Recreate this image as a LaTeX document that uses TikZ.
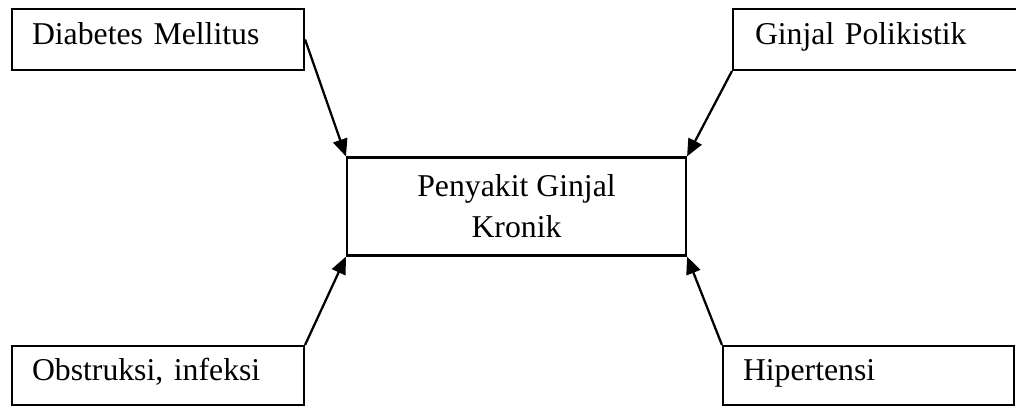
\documentclass[tikz,border=0pt]{standalone}
\usepackage{fontspec}
\setmainfont{Liberation Serif}
\usetikzlibrary{arrows.meta}
\def\px{0.75pt}
\tikzset{
  box/.style={draw=black, line width=1.6pt, rectangle, align=left,
    font=\fontsize{23.8pt}{30.75pt}\selectfont,
    text height=0.68em, text depth=0pt, inner ysep=0pt},
  mid/.style={draw=black, line width=1.6pt, rectangle, align=center,
    font=\fontsize{23.8pt}{30.75pt}\selectfont, inner sep=0pt},
  arr/.style={line width=1.7pt, -{Triangle[length=13pt,width=11pt]}}
}
\begin{document}
\begin{tikzpicture}[x=0.75pt, y=-0.75pt]
\useasboundingbox (0,0) rectangle (1016,406);
\node[box, minimum width=292*\px, minimum height=61*\px, inner xsep=20*\px, text width=252*\px] (dm) at (158,39.5) {Diabetes Mellitus};
\node[box, minimum width=297*\px, minimum height=61*\px, inner xsep=22*\px, text width=253*\px] (gp) at (881.5,39.5) {Ginjal Polikistik};
\node[box, minimum width=292*\px, minimum height=59*\px, inner xsep=20*\px, text width=252*\px] (ob) at (158,375.5) {Obstruksi, infeksi};
\node[box, minimum width=291*\px, minimum height=59*\px, inner xsep=20*\px, text width=251*\px] (hp) at (868.5,375.5) {Hipertensi};
\node[mid, minimum width=339*\px, minimum height=98*\px] (pgk) at (516.5,206.5) {Penyakit Ginjal\\Kronik};
\draw[arr] (dm.east) -- (pgk.north west);
\draw[arr] (gp.south west) -- (pgk.north east);
\draw[arr] (ob.north east) -- (pgk.south west);
\draw[arr] (hp.north west) -- (pgk.south east);
\end{tikzpicture}
\end{document}
